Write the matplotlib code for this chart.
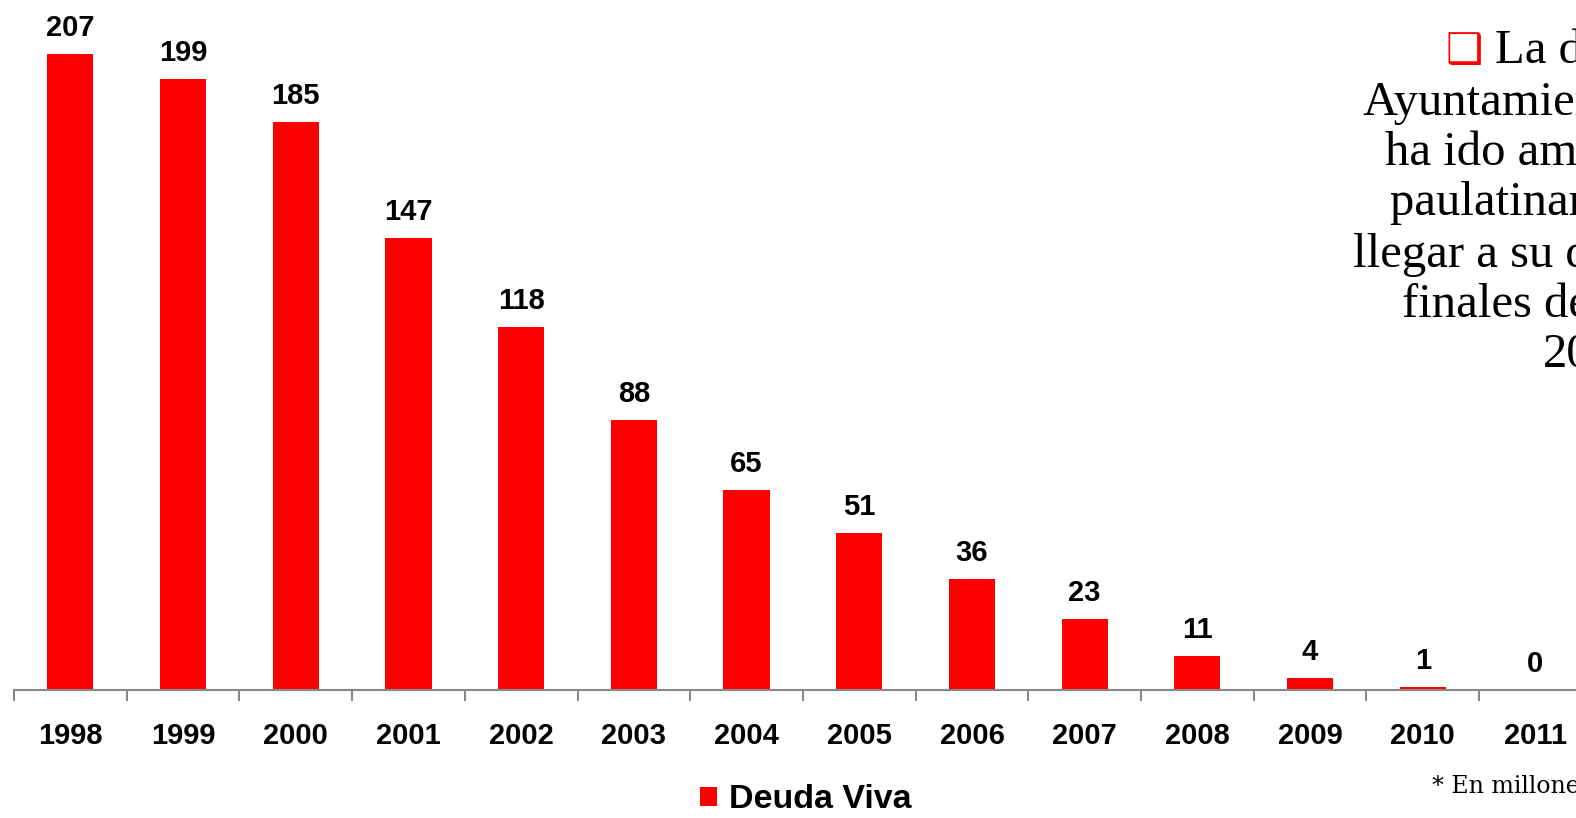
import matplotlib.pyplot as plt
import numpy as np

# datos
años = ['1998', '1999', '2000', '2001', '2002', '2003', '2004',
        '2005', '2006', '2007', '2008', '2009', '2010', '2011']
deuda = [207, 199, 185, 147, 118, 88, 65, 51, 36, 23, 11, 4, 1, 0]

lineas_texto = ['La deuda del', 'Ayuntamiento se', 'ha ido amortizando',
                'paulatinamente hasta', 'llegar a su desaparición a',
                'finales del año', '2011']

W, H = 1576, 818
fig = plt.figure(figsize=(W / 100, H / 100), dpi=100)

slot = 112.7
ax = fig.add_axes([14 / W, 128 / H, 14 * slot / W, 690 / H])

x = np.arange(len(años))
barras = ax.bar(x, deuda, width=0.41, color='#ff0000', label='Deuda Viva')

for xi, v in zip(x, deuda):
    ax.annotate(str(v), (xi, v), xytext=(0, 13), textcoords='offset points',
                ha='center', va='baseline', fontsize=21, fontweight='bold',
                family='Liberation Sans')

ax.set_xlim(-0.5, len(años) - 0.5)
ax.set_ylim(0, 224.6)
ax.set_yticks([])
for s in ['top', 'right', 'left']:
    ax.spines[s].set_visible(False)
ax.spines['bottom'].set_color('#888888')
ax.spines['bottom'].set_linewidth(1.5)

ax.set_xticks(x)
ax.set_xticklabels(años, fontsize=21, fontweight='bold', family='Liberation Sans')
ax.tick_params(axis='x', which='major', length=0, pad=23)
ax.set_xticks(np.arange(len(años) + 1) - 0.5, minor=True)
ax.tick_params(axis='x', which='minor', length=8, width=1.5, color='#888888')

fig.legend(handles=[barras], labels=['Deuda Viva'], loc='center',
           bbox_to_anchor=(806 / W, 18 / H), frameon=False,
           handlelength=0.5, handleheight=0.5, handletextpad=0.35,
           prop={'family': 'Liberation Sans', 'weight': 'bold', 'size': 24.5})

# texto lateral
x_inicio = [1495, 1363, 1385, 1390, 1353, 1402, 1543]
base_y = [63, 115, 165, 215, 267, 317, 367]
for xs, ys, t in zip(x_inicio, base_y, lineas_texto):
    fig.text(xs / W, 1 - ys / H, t, ha='left', va='baseline',
             fontsize=35, family='Liberation Serif', color='black')
fig.text(1446 / W, 1 - 63 / H, '❑', ha='left', va='baseline',
         fontsize=30, family='DejaVu Sans', color='#ff0000')

fig.text(1432 / W, 1 - 793 / H, '* En millones de euros', ha='left',
         va='baseline', fontsize=17, family='DejaVu Serif')

fig.savefig('out.png', dpi=100)
